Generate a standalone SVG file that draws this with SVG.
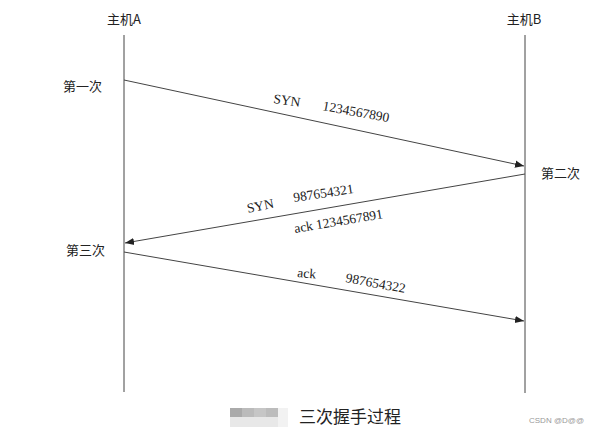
<svg xmlns="http://www.w3.org/2000/svg" width="598" height="439" viewBox="0 0 598 439">
<style>
.t{font-family:"Liberation Serif","Noto Sans CJK SC",serif;font-size:13.5px;fill:#222}
.c{font-family:"Noto Sans CJK SC",sans-serif;font-size:13px;fill:#222}
.ln{stroke:#444;stroke-width:1;fill:none}
</style>
<defs>
<marker id="ah" viewBox="0 0 10 10" refX="10" refY="5" markerWidth="9" markerHeight="9" markerUnits="userSpaceOnUse" orient="auto">
<path d="M0,1 L10,5 L0,9 Z" fill="#222"/>
</marker>
</defs>
<rect width="598" height="439" fill="#fff"/>
<g id="hostA">
<line class="ln" x1="124" y1="35" x2="124" y2="392"/>
<text class="c" x="124" y="24" text-anchor="middle">主机A</text>
</g>
<g id="hostB">
<line class="ln" x1="525" y1="35" x2="525" y2="393"/>
<text class="c" x="524" y="24" text-anchor="middle">主机B</text>
</g>
<g id="steps">
<text class="c" x="63" y="91">第一次</text>
<text class="c" x="541" y="178">第二次</text>
<text class="c" x="66" y="255">第三次</text>
</g>
<g id="connectors">
<line class="ln" x1="124" y1="80" x2="524" y2="166" marker-end="url(#ah)"/>
<line class="ln" x1="525" y1="174" x2="125" y2="243" marker-end="url(#ah)"/>
<line class="ln" x1="124" y1="252" x2="524" y2="321" marker-end="url(#ah)"/>
</g>
<g id="labels">
<text class="t" transform="translate(273,103) rotate(8)">SYN</text>
<text class="t" transform="translate(322,110) rotate(10.5)">1234567890</text>
<text class="t" transform="translate(248,213) rotate(-12)">SYN</text>
<text class="t" transform="translate(294,202) rotate(-8.5)">987654321</text>
<text class="t" transform="translate(295,233) rotate(-9.5)">ack 1234567891</text>
<text class="t" transform="translate(297,277) rotate(5)">ack</text>
<text class="t" transform="translate(345,282) rotate(10.5)">987654322</text>
</g>
<g id="caption">
<rect x="230" y="408" width="12" height="9" fill="#aaa"/>
<rect x="242" y="408" width="12" height="9" fill="#bbb"/>
<rect x="254" y="408" width="12" height="9" fill="#c6c6c6"/>
<rect x="266" y="408" width="12" height="9" fill="#bcbcbc"/>
<rect x="230" y="417" width="48" height="10" fill="#e8e8e8"/>
<rect x="278" y="408" width="10" height="19" fill="#f2f2f2"/>
<text x="299" y="423" style="font-family:'Noto Sans CJK SC',sans-serif;font-size:17px;fill:#222">三次握手过程</text>
<text x="529" y="423" style="font-family:'Liberation Sans',sans-serif;font-size:8px;fill:#999">CSDN @D@@</text>
</g>
</svg>
